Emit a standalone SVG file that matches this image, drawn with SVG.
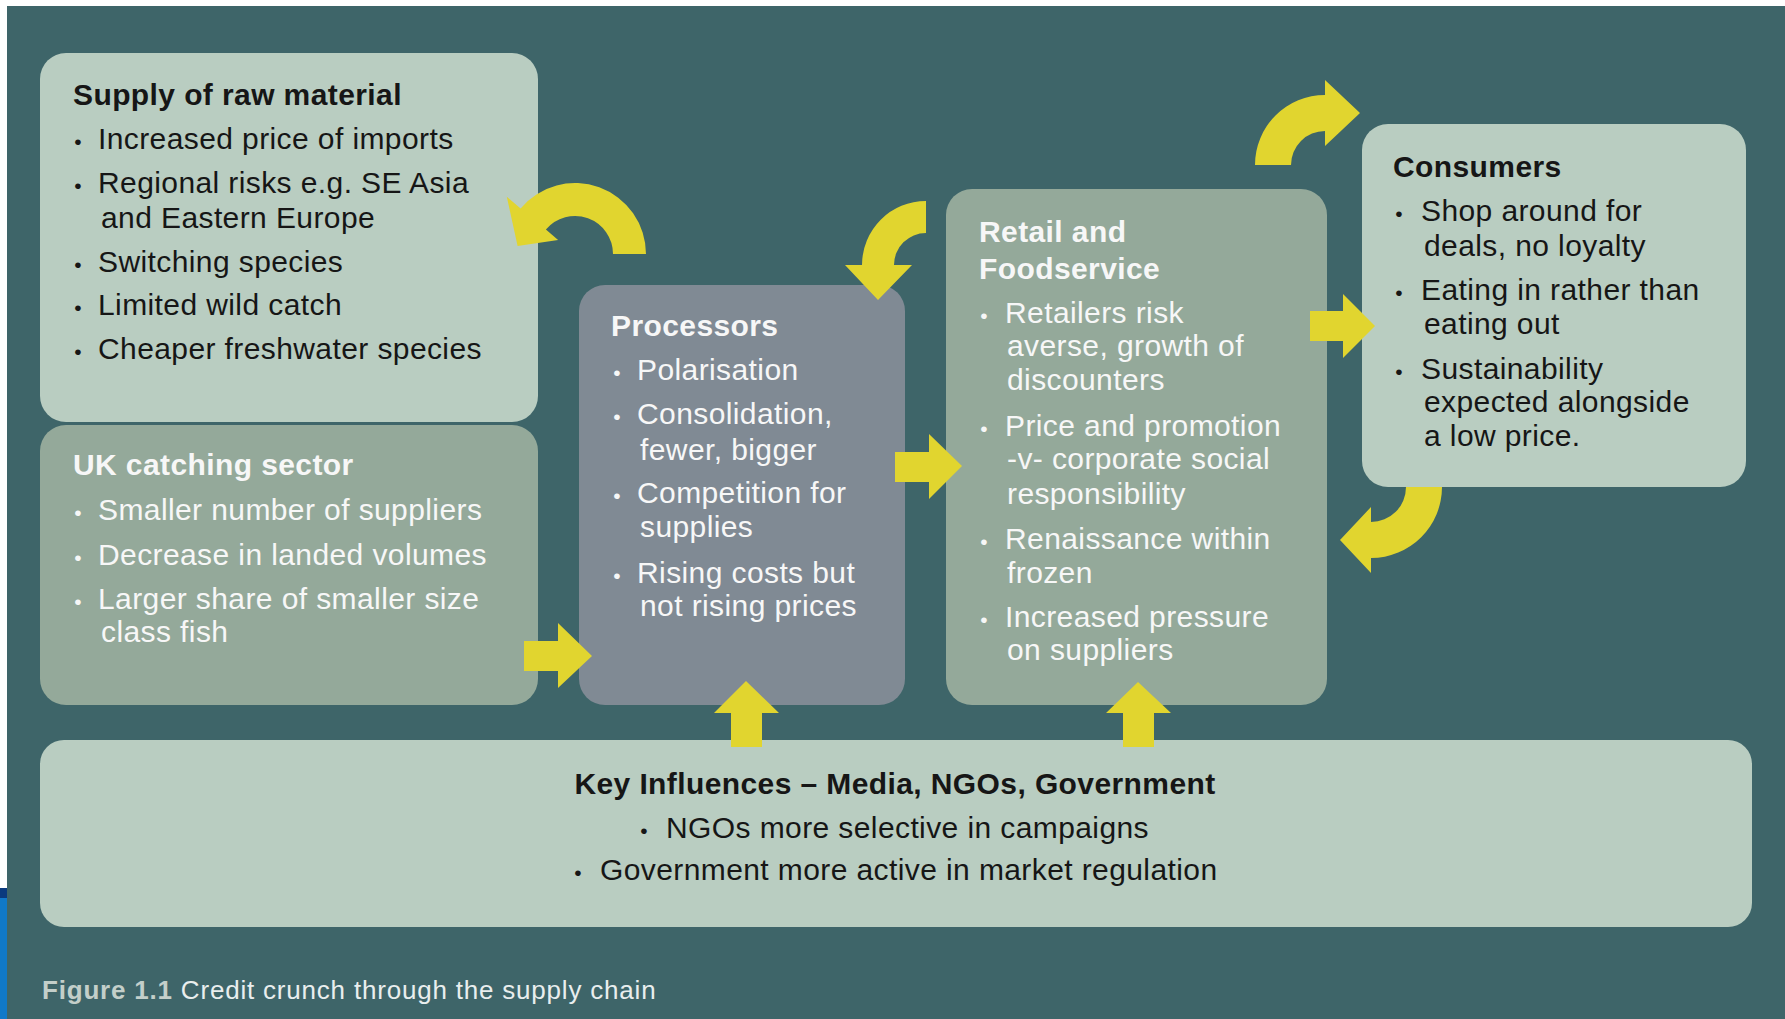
<svg xmlns="http://www.w3.org/2000/svg" width="1785" height="1019" viewBox="0 0 1785 1019">
  <style>
    .bg { fill: #3e6569; }
    .light { fill: #b9cdc1; }
    .mid { fill: #94a99a; }
    .proc { fill: #808a94; }
    .arrow { fill: #e1d52f; }
    text { font-family: "Liberation Sans", Arial, sans-serif; font-size: 30px; letter-spacing: 0.4px; }
    .dk { fill: #161616; }
    .lt { fill: #f7f7f7; }
    .ttl { font-weight: bold; }
    .bul { font-size: 21px; letter-spacing: 0; text-anchor: middle; }
    .cap { font-size: 26px; letter-spacing: 0.8px; fill: #e9eeee; }
    .capb { font-weight: bold; fill: #c3cfca; }
  </style>

  <!-- page edges and backdrop -->
  <rect x="0" y="0" width="1785" height="1019" fill="#ffffff"/>
  <rect x="0" y="888" width="7" height="10" fill="#0b3a7e"/>
  <rect x="0" y="898" width="7" height="121" fill="#1079c9"/>
  <rect class="bg" x="7" y="6" width="1778" height="1013"/>

  <!-- Supply of raw material -->
  <g id="supply">
    <rect class="light" x="40" y="53" width="498" height="369" rx="26"/>
    <text class="dk ttl" x="73" y="105">Supply of raw material</text>
    <text class="dk bul" x="78" y="149">•</text>
    <text class="dk" x="98" y="149">Increased price of imports</text>
    <text class="dk bul" x="78" y="193">•</text>
    <text class="dk" x="98" y="193">Regional risks e.g. SE Asia</text>
    <text class="dk" x="101" y="228">and Eastern Europe</text>
    <text class="dk bul" x="78" y="272">•</text>
    <text class="dk" x="98" y="272">Switching species</text>
    <text class="dk bul" x="78" y="315">•</text>
    <text class="dk" x="98" y="315">Limited wild catch</text>
    <text class="dk bul" x="78" y="359">•</text>
    <text class="dk" x="98" y="359">Cheaper freshwater species</text>
  </g>

  <!-- UK catching sector -->
  <g id="uk-catching">
    <rect class="mid" x="40" y="425" width="498" height="280" rx="26"/>
    <text class="lt ttl" x="73" y="475">UK catching sector</text>
    <text class="lt bul" x="78" y="520">•</text>
    <text class="lt" x="98" y="520">Smaller number of suppliers</text>
    <text class="lt bul" x="78" y="565">•</text>
    <text class="lt" x="98" y="565">Decrease in landed volumes</text>
    <text class="lt bul" x="78" y="609">•</text>
    <text class="lt" x="98" y="609">Larger share of smaller size</text>
    <text class="lt" x="101" y="642">class fish</text>
  </g>

  <!-- Processors -->
  <g id="processors">
    <rect class="proc" x="579" y="285" width="326" height="420" rx="26"/>
    <text class="lt ttl" x="611" y="336">Processors</text>
    <text class="lt bul" x="617" y="380">•</text>
    <text class="lt" x="637" y="380">Polarisation</text>
    <text class="lt bul" x="617" y="424">•</text>
    <text class="lt" x="637" y="424">Consolidation,</text>
    <text class="lt" x="640" y="460">fewer, bigger</text>
    <text class="lt bul" x="617" y="503">•</text>
    <text class="lt" x="637" y="503">Competition for</text>
    <text class="lt" x="640" y="537">supplies</text>
    <text class="lt bul" x="617" y="583">•</text>
    <text class="lt" x="637" y="583">Rising costs but</text>
    <text class="lt" x="640" y="616">not rising prices</text>
  </g>

  <!-- Retail and Foodservice -->
  <g id="retail">
    <rect class="mid" x="946" y="189" width="381" height="516" rx="26"/>
    <text class="lt ttl" x="979" y="242">Retail and</text>
    <text class="lt ttl" x="979" y="279">Foodservice</text>
    <text class="lt bul" x="984" y="323">•</text>
    <text class="lt" x="1005" y="323">Retailers risk</text>
    <text class="lt" x="1007" y="356">averse, growth of</text>
    <text class="lt" x="1007" y="390">discounters</text>
    <text class="lt bul" x="984" y="436">•</text>
    <text class="lt" x="1005" y="436">Price and promotion</text>
    <text class="lt" x="1007" y="469">-v- corporate social</text>
    <text class="lt" x="1007" y="504">responsibility</text>
    <text class="lt bul" x="984" y="549">•</text>
    <text class="lt" x="1005" y="549">Renaissance within</text>
    <text class="lt" x="1007" y="583">frozen</text>
    <text class="lt bul" x="984" y="627">•</text>
    <text class="lt" x="1005" y="627">Increased pressure</text>
    <text class="lt" x="1007" y="660">on suppliers</text>
  </g>

  <!-- Consumers -->
  <g id="consumers">
    <rect class="light" x="1362" y="124" width="384" height="363" rx="26"/>
    <text class="dk ttl" x="1393" y="177">Consumers</text>
    <text class="dk bul" x="1399" y="221">•</text>
    <text class="dk" x="1421" y="221">Shop around for</text>
    <text class="dk" x="1424" y="256">deals, no loyalty</text>
    <text class="dk bul" x="1399" y="300">•</text>
    <text class="dk" x="1421" y="300">Eating in rather than</text>
    <text class="dk" x="1424" y="334">eating out</text>
    <text class="dk bul" x="1399" y="379">•</text>
    <text class="dk" x="1421" y="379">Sustainability</text>
    <text class="dk" x="1424" y="412">expected alongside</text>
    <text class="dk" x="1424" y="446">a low price.</text>
  </g>

  <!-- Key influences -->
  <g id="key-influences">
    <rect class="light" x="40" y="740" width="1712" height="187" rx="24"/>
    <text class="dk ttl" x="895" y="794" text-anchor="middle">Key Influences – Media, NGOs, Government</text>
    <text class="dk bul" x="644" y="838">•</text>
    <text class="dk" x="666" y="838">NGOs more selective in campaigns</text>
    <text class="dk bul" x="578" y="880">•</text>
    <text class="dk" x="600" y="880">Government more active in market regulation</text>
  </g>

  <!-- connectors: block arrows -->
  <g id="connectors">
    <!-- processors back to supply (curved) -->
    <path class="arrow" d="M646,254 A71,71 0 0 0 520.6,208.4 L506.8,196.8 L517.6,245.9 L558.1,239.9 L545.9,229.6 A38,38 0 0 1 613,254 Z"/>
    <!-- retail back to processors (curved) -->
    <path class="arrow" d="M926,201 A64,64 0 0 0 862,265 L845,265 L878,300 L912,265 L894,265 A32,32 0 0 1 926,233 Z"/>
    <!-- retail up towards consumers (curved) -->
    <path class="arrow" d="M1255,165 A70,70 0 0 1 1325,95 L1325,80 L1360,113 L1325,146 L1325,131 A34,34 0 0 0 1291,165 Z"/>
    <!-- consumers back to retail (curved) -->
    <path class="arrow" d="M1442,487 A71,71 0 0 1 1371,558 L1371,573 L1340,540 L1371,507 L1371,522 A35,35 0 0 0 1406,487 Z"/>
    <!-- UK catching to processors -->
    <path class="arrow" d="M524,641 L558,641 L558,623 L592,656 L558,688 L558,671 L524,671 Z"/>
    <!-- processors to retail -->
    <path class="arrow" d="M895,452 L929,452 L929,434 L962,466 L929,499 L929,482 L895,482 Z"/>
    <!-- retail to consumers -->
    <path class="arrow" d="M1310,311 L1343,311 L1343,294 L1375,326 L1343,358 L1343,341 L1310,341 Z"/>
    <!-- key influences up to processors -->
    <path class="arrow" d="M731,747 L731,713 L714,713 L746,681 L779,713 L762,713 L762,747 Z"/>
    <!-- key influences up to retail -->
    <path class="arrow" d="M1123,747 L1123,713 L1106,713 L1138,682 L1171,713 L1154,713 L1154,747 Z"/>
  </g>

  <!-- caption -->
  <text class="cap" x="42" y="999"><tspan class="capb">Figure 1.1</tspan> Credit crunch through the supply chain</text>
</svg>
